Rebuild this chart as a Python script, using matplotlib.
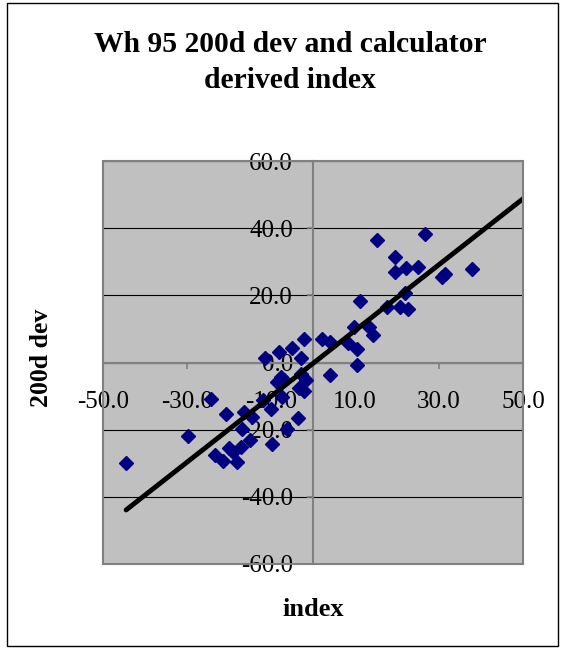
import numpy as np
import matplotlib
matplotlib.use("Agg")
import matplotlib.pyplot as plt
from matplotlib.patches import Rectangle

# data
index_vals = [-44.5, -29.7, -24.4, -20.8, -23.3, -21.5, -19.9, -19.1, -18.1, -17.2,
              -16.8, -16.4, -15.0, -14.6, -12.0, -10.0, -9.8, -6.1, -7.3, -8.5,
              -7.7, -7.0, -11.4, -8.1, -5.1, -2.9, -2.1, -3.3, -2.1, -1.7,
              -3.5, -2.9, 2.2, 4.0, 4.0, 8.3, 9.7, 10.4, 10.5, 11.2,
              13.3, 14.3, 15.3, 17.6, 19.5, 19.5, 20.6, 21.8, 22.2, 22.5,
              25.0, 26.7, 30.7, 31.5, 37.8]
dev_vals = [-29.8, -21.9, -11.0, -15.2, -27.4, -29.3, -25.4, -26.6, -29.6, -25.1,
            -19.9, -14.7, -23.1, -16.2, -11.2, -13.7, -24.4, -19.7, -10.2, -5.8,
            -4.3, -5.3, 1.2, 3.2, 4.2, 1.2, 7.1, -7.7, -8.4, -5.3,
            -16.4, -3.3, 7.1, 6.2, -3.8, 5.9, 10.6, 3.9, -0.6, 18.4,
            10.6, 8.1, 36.4, 16.6, 31.5, 27.0, 16.4, 20.7, 28.0, 15.9,
            28.5, 38.2, 25.5, 26.3, 27.7]

x_ticks = [-50, -30, -10, 10, 30, 50]
y_ticks = [-60, -40, -20, 0, 20, 40, 60]

plt.rcParams['font.family'] = ['Liberation Serif', 'DejaVu Serif']

fig = plt.figure(figsize=(5.65, 6.52), dpi=100)
ax = fig.add_axes([103/565, 1 - 564/652, 420/565, 403/652])

ax.set_facecolor('#C0C0C0')
ax.set_xlim(-50, 50)
ax.set_ylim(-60, 60)

# gridlines
for yv in y_ticks:
    ax.axhline(yv, color='black', lw=0.8, zorder=1)

# scatter
ax.plot(index_vals, dev_vals, linestyle='none', marker='D', markersize=7.6,
        color='#000080', zorder=3)

# linear trendline
slope, icpt = np.polyfit(index_vals, dev_vals, 1)
tx = np.array([min(index_vals), 50])
ax.plot(tx, slope * tx + icpt, color='black', lw=3.5, zorder=4, solid_capstyle='round')

# axes crossing at zero
for s in ['top', 'right']:
    ax.spines[s].set_visible(False)
for s in ['left', 'bottom']:
    ax.spines[s].set_position(('data', 0))
    ax.spines[s].set_color('#808080')
    ax.spines[s].set_linewidth(1.5)
    ax.spines[s].set_zorder(2)
ax.add_patch(Rectangle((0, 0), 1, 1, transform=ax.transAxes, fill=False,
                       ec='#808080', lw=1.5, clip_on=False, zorder=5))

ax.set_xticks(x_ticks)
ax.set_yticks(y_ticks)
ax.set_xticklabels([f"{v:.1f}" for v in x_ticks])
ax.set_yticklabels([f"{v:.1f}" for v in y_ticks])
ax.tick_params(axis='x', direction='out', length=4.5, color='#808080', width=1.2,
               labelsize=18, pad=16)
ax.tick_params(axis='y', direction='out', length=4.5, color='#808080', width=1.2,
               labelsize=18, pad=10)

# titles and labels
fig.text(290/565, 1 - 52/652, "Wh 95 200d dev and calculator", ha='center',
         va='baseline', fontsize=21.3, fontweight='bold')
fig.text(290/565, 1 - 88.5/652, "derived index", ha='center',
         va='baseline', fontsize=21.3, fontweight='bold')
fig.text(41/565, 1 - 358/652, "200d dev", rotation=90, ha='center', va='center',
         fontsize=18.5, fontweight='bold')
fig.text(313/565, 1 - 610/652, "index", ha='center', va='center',
         fontsize=19, fontweight='bold')

# chart area border
fig.patches.append(Rectangle((7/565, 1 - 646/652), 551/565, 643/652,
                             transform=fig.transFigure, fill=False, ec='black', lw=1))

fig.savefig("out.png", dpi=100)
